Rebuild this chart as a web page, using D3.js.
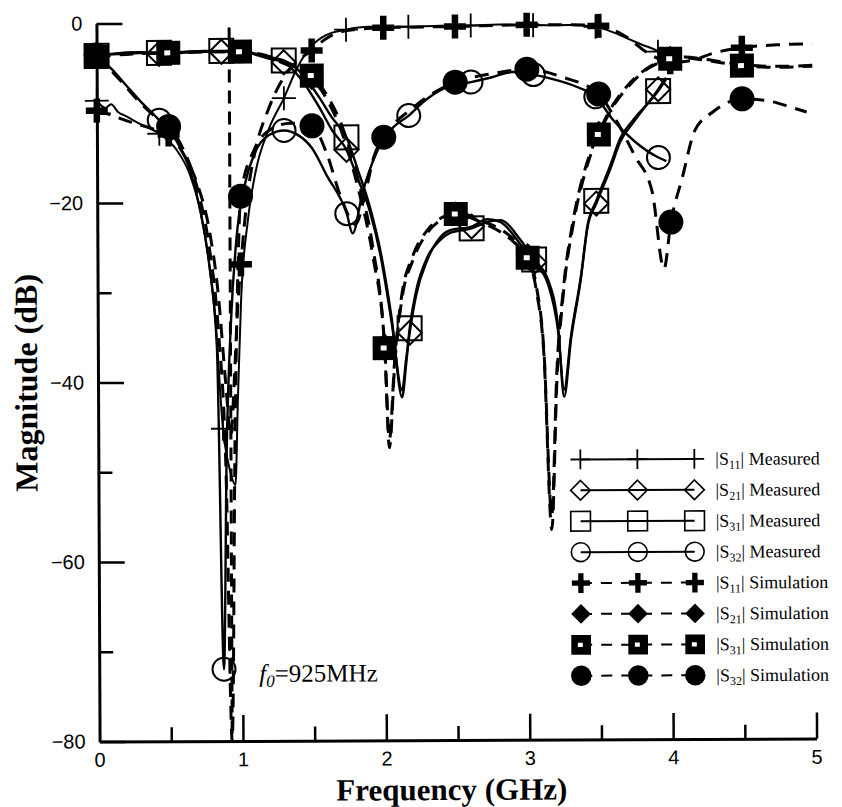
<!DOCTYPE html>
<html>
<head>
<meta charset="utf-8">
<script src="https://cdn.jsdelivr.net/npm/d3@7"></script>
<style>
  body { margin: 0; background: #fff; }
  svg { display: block; }
</style>
</head>
<body>
<svg id="chart" width="842" height="807"></svg>
<script>
// ---- Axis ticks -------------------------------------------------------
const freqTicksMajor = [0, 1, 2, 3, 4, 5];
const freqTicksMinor = [0.5, 1.5, 2.5, 3.5, 4.5];
const dbTicksMajor = [0, -20, -40, -60, -80];
const dbTicksMinor = [-10, -30, -50, -70];

// ---- Marker frequencies (GHz) ----------------------------------------
const measMarkerFreq = [0, 0.435, 0.87, 1.305, 1.74, 2.175, 2.61, 3.045, 3.48, 3.915];
const simMarkerFreq = [0, 0.5, 1.0, 1.5, 2.0, 2.5, 3.0, 3.5, 4.0, 4.5];

// design frequency
const f0 = 0.925;

// ---- |S11| measured ---------------------------------------------------
const s11MeasFreq = [0, 0.06, 0.1, 0.15, 0.2, 0.3, 0.435, 0.55, 0.65, 0.72, 0.78, 0.82, 0.87, 0.92, 0.955, 0.975, 1.0, 1.05, 1.1, 1.2, 1.305, 1.4, 1.5, 1.6, 1.74, 1.9, 2.175, 2.4, 2.61, 2.8, 3.045, 3.3, 3.48, 3.6, 3.7, 3.8, 3.915, 3.97];
const s11MeasDb = [-8.6, -9.4, -9.0, -9.9, -10.3, -11.2, -12.3, -14.0, -17.0, -21.0, -27.0, -33.0, -45.2, -50.0, -51.5, -42.0, -31.0, -22.0, -17.0, -11.8, -8.4, -5.0, -2.6, -1.4, -0.8, -0.5, -0.5, -0.4, -0.4, -0.3, -0.4, -0.4, -0.6, -1.2, -1.9, -2.6, -3.4, -4.2];

// ---- |S21| / |S31| measured ------------------------------------------
const s21MeasFreq = [0, 0.15, 0.3, 0.435, 0.6, 0.75, 0.87, 1.0, 1.1, 1.2, 1.305, 1.42, 1.55, 1.64, 1.74, 1.82, 1.9, 1.98, 2.05, 2.12, 2.15, 2.175, 2.22, 2.3, 2.39, 2.46, 2.61, 2.72, 2.81, 2.95, 3.045, 3.14, 3.21, 3.25, 3.3, 3.37, 3.42, 3.48, 3.58, 3.65, 3.74, 3.915, 3.97];
const s21MeasDb = [-3.5, -3.4, -3.3, -3.4, -3.3, -3.2, -3.2, -3.2, -3.5, -4.0, -4.4, -6.2, -9.4, -12.0, -14.2, -17.5, -21.0, -26.5, -33.5, -41.0, -37.5, -34.6, -30.5, -26.5, -24.0, -23.2, -22.8, -22.0, -22.3, -24.8, -26.8, -29.2, -34.5, -41.0, -35.0, -28.5, -22.8, -20.3, -16.4, -13.4, -11.3, -7.6, -6.3];
const s31MeasFreq = s21MeasFreq;
const s31MeasDb = [-3.6, -3.3, -3.2, -3.3, -3.2, -3.1, -3.1, -3.1, -3.4, -3.8, -4.2, -5.5, -8.3, -10.6, -12.8, -16.5, -20.5, -26.0, -33.0, -41.8, -38.0, -34.1, -30.0, -26.2, -24.3, -23.5, -23.0, -22.3, -22.1, -24.3, -26.5, -28.7, -34.0, -41.8, -35.4, -28.7, -22.6, -20.0, -16.0, -13.0, -11.0, -7.8, -6.5];

// ---- |S32| measured ---------------------------------------------------
const s32MeasFreq = [0, 0.1, 0.2, 0.3, 0.435, 0.55, 0.65, 0.72, 0.78, 0.83, 0.87, 0.895, 0.93, 0.97, 1.03, 1.1, 1.2, 1.305, 1.4, 1.5, 1.6, 1.74, 1.78, 1.85, 1.95, 2.05, 2.175, 2.3, 2.45, 2.61, 2.75, 2.9, 3.045, 3.2, 3.35, 3.48, 3.6, 3.75, 3.915, 3.97];
const s32MeasDb = [-3.6, -5.0, -6.8, -8.6, -10.8, -13.0, -16.5, -21.0, -27.0, -36.0, -72.0, -48.0, -33.0, -24.0, -18.0, -14.5, -12.5, -12.0, -12.5, -14.0, -17.0, -21.3, -23.5, -19.0, -14.5, -12.0, -10.4, -8.6, -7.2, -6.7, -6.2, -5.6, -5.9, -6.5, -7.3, -8.4, -11.0, -13.4, -15.2, -15.6];

// ---- |S11| simulated --------------------------------------------------
const s11SimFreq = [0, 0.1, 0.2, 0.3, 0.4, 0.5, 0.6, 0.7, 0.78, 0.84, 0.89, 0.925, 0.95, 0.975, 1.0, 1.05, 1.1, 1.2, 1.3, 1.4, 1.5, 1.6, 1.75, 2.0, 2.5, 3.0, 3.3, 3.5, 3.67, 3.86, 4.0, 4.15, 4.3, 4.5, 4.75, 4.99];
const s11SimDb = [-9.7, -10.2, -10.8, -11.3, -11.8, -12.4, -14.5, -18.0, -23.0, -30.0, -40.0, -46.0, -40.0, -32.0, -26.9, -19.0, -14.5, -9.5, -6.2, -4.3, -3.1, -1.8, -0.9, -0.6, -0.5, -0.35, -0.35, -0.5, -1.5, -3.7, -4.6, -4.4, -3.6, -3.0, -2.7, -2.6];

// ---- |S21| / |S31| simulated -----------------------------------------
const s21SimFreq = [0, 0.25, 0.5, 0.75, 1.0, 1.15, 1.3, 1.5, 1.62, 1.72, 1.82, 1.92, 2.0, 2.03, 2.07, 2.12, 2.2, 2.3, 2.4, 2.5, 2.6, 2.7, 2.8, 2.9, 3.0, 3.06, 3.11, 3.16, 3.2, 3.25, 3.32, 3.4, 3.5, 3.6, 3.7, 3.8, 3.9, 4.0, 4.1, 4.25, 4.5, 4.75, 4.99];
const s21SimDb = [-3.6, -3.3, -3.3, -3.2, -3.2, -3.6, -4.5, -6.2, -9.0, -12.8, -18.5, -26.0, -36.0, -46.5, -37.5, -30.5, -26.0, -23.2, -21.8, -21.3, -21.6, -22.3, -23.0, -24.2, -26.0, -29.5, -36.5, -55.0, -39.0, -29.5, -22.0, -16.6, -12.4, -9.3, -7.2, -5.7, -4.7, -4.1, -4.0, -4.3, -4.9, -5.1, -5.0];
const s31SimFreq = s21SimFreq;
const s31SimDb = [-3.7, -3.4, -3.3, -3.2, -3.2, -3.5, -4.3, -5.9, -8.5, -12.0, -17.5, -25.0, -36.3, -47.4, -38.0, -31.0, -26.5, -23.5, -22.0, -21.4, -21.8, -22.5, -23.3, -24.5, -26.3, -30.0, -37.0, -56.6, -40.0, -30.0, -22.5, -17.0, -12.6, -9.5, -7.4, -5.8, -4.8, -4.2, -4.1, -4.4, -5.0, -5.2, -5.1];

// ---- |S32| simulated --------------------------------------------------
const s32SimFreq = [0, 0.1, 0.2, 0.3, 0.4, 0.5, 0.6, 0.7, 0.78, 0.84, 0.89, 0.925, 0.955, 0.98, 1.0, 1.1, 1.2, 1.35, 1.5, 1.6, 1.7, 1.8, 1.87, 1.93, 2.0, 2.2, 2.5, 2.75, 3.0, 3.25, 3.5, 3.62, 3.75, 3.87, 3.95, 4.0, 4.08, 4.17, 4.3, 4.5, 4.7, 4.85, 4.95];
const s32SimDb = [-3.5, -5.2, -7.0, -8.8, -10.3, -11.5, -14.0, -18.5, -25.0, -34.0, -50.0, -80.0, -45.0, -27.0, -19.3, -14.0, -12.0, -11.2, -11.5, -14.5, -19.5, -22.5, -19.0, -15.0, -12.8, -9.6, -6.7, -5.8, -5.3, -6.2, -8.1, -11.0, -15.0, -19.0, -27.6, -22.4, -17.5, -12.2, -10.1, -8.7, -9.0, -9.7, -10.2];

// ---- Legend labels ----------------------------------------------------
const legendPorts = ["11", "21", "31", "32", "11", "21", "31", "32"];
const legendKinds = ["Measured", "Measured", "Measured", "Measured", "Simulation", "Simulation", "Simulation", "Simulation"];

// ---- Series table -----------------------------------------------------
const zip = (f, v) => f.map((d, i) => [d, v[i]]);
const series = [
  { data: zip(s11MeasFreq, s11MeasDb), dashed: false, marker: "thinCross", marks: measMarkerFreq, width: 2 },
  { data: zip(s21MeasFreq, s21MeasDb), dashed: false, marker: "openDiamond", marks: measMarkerFreq, width: 2.4 },
  { data: zip(s31MeasFreq, s31MeasDb), dashed: false, marker: "openSquare", marks: measMarkerFreq, width: 2.4 },
  { data: zip(s32MeasFreq, s32MeasDb), dashed: false, marker: "openCircle", marks: measMarkerFreq, width: 2.4 },
  { data: zip(s11SimFreq, s11SimDb), dashed: true, marker: "thickCross", marks: simMarkerFreq, width: 3 },
  { data: zip(s21SimFreq, s21SimDb), dashed: true, marker: "filledDiamond", marks: simMarkerFreq, width: 3 },
  { data: zip(s31SimFreq, s31SimDb), dashed: true, marker: "filledSquare", marks: simMarkerFreq, width: 3 },
  { data: zip(s32SimFreq, s32SimDb), dashed: true, marker: "filledCircle", marks: simMarkerFreq, width: 3 }
];

// ---- Layout -----------------------------------------------------------
const svg = d3.select("#chart");
const root = svg.append("g").attr("transform", "rotate(-0.25 456 380)");

const x = d3.scaleLinear().domain([0, 5]).range([98, 815]);
const y = d3.scaleLinear().domain([-80, 0]).range([740, 22]);

const DASH = "14,9";

// ---- Marker drawing ---------------------------------------------------
function drawMarker(g, type, cx, cy, s) {
  const m = g.append("g").attr("transform", `translate(${cx},${cy}) scale(${s})`);
  switch (type) {
    case "thinCross":
      m.append("path").attr("d", "M-12,0H12M0,-12V12")
        .attr("stroke", "#000").attr("stroke-width", 1.8 / s).attr("fill", "none");
      break;
    case "thickCross":
      m.append("path").attr("d", "M-11,0H11M0,-12V12")
        .attr("stroke", "#000").attr("stroke-width", 6.5).attr("fill", "none");
      break;
    case "openDiamond":
      m.append("path").attr("d", "M0,-12L12,0L0,12L-12,0Z")
        .attr("stroke", "#000").attr("stroke-width", 2).attr("fill", "none");
      break;
    case "openSquare":
      m.append("rect").attr("x", -12).attr("y", -12).attr("width", 24).attr("height", 24)
        .attr("stroke", "#000").attr("stroke-width", 2).attr("fill", "none");
      break;
    case "openCircle":
      m.append("circle").attr("r", 11.5)
        .attr("stroke", "#000").attr("stroke-width", 2).attr("fill", "none");
      break;
    case "filledDiamond":
      m.append("path").attr("d", "M0,-12L12,0L0,12L-12,0Z").attr("fill", "#000");
      break;
    case "filledSquare":
      m.append("rect").attr("x", -12).attr("y", -12).attr("width", 24).attr("height", 24).attr("fill", "#000");
      m.append("rect").attr("x", -4).attr("y", -2.5).attr("width", 6).attr("height", 5).attr("fill", "#fff");
      break;
    case "filledCircle":
      m.append("circle").attr("r", 12.5).attr("fill", "#000");
      break;
  }
}

// ---- Axes -------------------------------------------------------------
const axisFont = "'Liberation Sans', Arial, sans-serif";

const yAxis = root.append("g").attr("transform", `translate(${x(0)},0)`)
  .call(d3.axisLeft(y).tickValues(dbTicksMajor).tickSizeInner(-26).tickSizeOuter(0).tickPadding(14));
const yMinor = root.append("g").attr("transform", `translate(${x(0)},0)`)
  .call(d3.axisLeft(y).tickValues(dbTicksMinor).tickSizeInner(-14).tickSizeOuter(0).tickFormat(""));
yMinor.select(".domain").remove();

const xAxis = root.append("g").attr("transform", `translate(0,${y(-80)})`)
  .call(d3.axisBottom(x).tickValues(freqTicksMajor).tickSizeInner(-26).tickSizeOuter(0).tickPadding(11).tickFormat(d3.format("d")));
const xMinor = root.append("g").attr("transform", `translate(0,${y(-80)})`)
  .call(d3.axisBottom(x).tickValues(freqTicksMinor).tickSizeInner(-14).tickSizeOuter(0).tickFormat(""));
xMinor.select(".domain").remove();

[yAxis, yMinor, xAxis, xMinor].forEach(a => {
  a.selectAll(".domain").attr("stroke", "#000").attr("stroke-width", 3);
  a.selectAll(".tick line").attr("stroke", "#000").attr("stroke-width", 2.5);
  a.selectAll("text").attr("fill", "#000").attr("font-family", axisFont).attr("font-size", 20);
});
xAxis.selectAll(".tick").filter(d => d === 0).select("line").remove();

// ---- Axis titles ------------------------------------------------------
root.append("text")
  .attr("transform", `translate(37,${y(-40)}) rotate(-90)`)
  .attr("text-anchor", "middle")
  .attr("font-family", "'Liberation Serif', 'Times New Roman', serif")
  .attr("font-weight", "bold").attr("font-size", 32)
  .text("Magnitude (dB)");

root.append("text")
  .attr("x", 450).attr("y", 800)
  .attr("text-anchor", "middle")
  .attr("font-family", "'Liberation Serif', 'Times New Roman', serif")
  .attr("font-weight", "bold").attr("font-size", 31)
  .text("Frequency (GHz)");

// ---- Design-frequency marker line ------------------------------------
root.append("line")
  .attr("x1", x(f0)).attr("x2", x(f0))
  .attr("y1", y(-0.5)).attr("y2", y(-80))
  .attr("stroke", "#000").attr("stroke-width", 3).attr("stroke-dasharray", "13,8");

const f0Label = root.append("text")
  .attr("x", 258).attr("y", 681)
  .attr("font-family", "'Liberation Serif', 'Times New Roman', serif")
  .attr("font-size", 25);
f0Label.append("tspan").attr("font-style", "italic").text("f");
f0Label.append("tspan").attr("font-style", "italic").attr("font-size", 17).attr("dy", 5).text("0");
f0Label.append("tspan").attr("dy", -5).text("=925MHz");

// ---- Curves -----------------------------------------------------------
const line = d3.line().x(d => x(d[0])).y(d => y(d[1])).curve(d3.curveMonotoneX);
const curves = root.append("g");
series.forEach(s => {
  curves.append("path")
    .attr("d", line(s.data))
    .attr("fill", "none")
    .attr("stroke", "#000")
    .attr("stroke-width", s.width)
    .attr("stroke-linejoin", "round")
    .attr("stroke-dasharray", s.dashed ? DASH : null);
});

// ---- Markers (measured first, simulated on top) ----------------------
const marks = root.append("g");
series.forEach(s => {
  s.data.filter(d => s.marks.includes(d[0])).forEach(d => {
    drawMarker(marks, s.marker, x(d[0]), y(d[1]), 1);
  });
});

// ---- Legend -----------------------------------------------------------
const legend = root.append("g");
const legendRowY = d3.range(8).map(i => 460 + i * 30.9);
const legendSymX = [580, 637, 694];
series.forEach((s, i) => {
  const ly = legendRowY[i];
  legend.append("line")
    .attr("x1", legendSymX[0]).attr("x2", legendSymX[2])
    .attr("y1", ly).attr("y2", ly)
    .attr("stroke", "#000").attr("stroke-width", 2)
    .attr("stroke-dasharray", s.dashed ? "11,9" : null);
  legendSymX.forEach(lx => drawMarker(legend, s.marker, lx, ly, 0.82));
  const t = legend.append("text")
    .attr("x", 715).attr("y", ly + 6)
    .attr("font-family", "'Liberation Serif', 'Times New Roman', serif")
    .attr("font-size", 18).attr("fill", "#000");
  t.append("tspan").text("|S");
  t.append("tspan").attr("font-size", 12).attr("dy", 4).text(legendPorts[i]);
  t.append("tspan").attr("dy", -4).text("| " + legendKinds[i]);
});
</script>
</body>
</html>
